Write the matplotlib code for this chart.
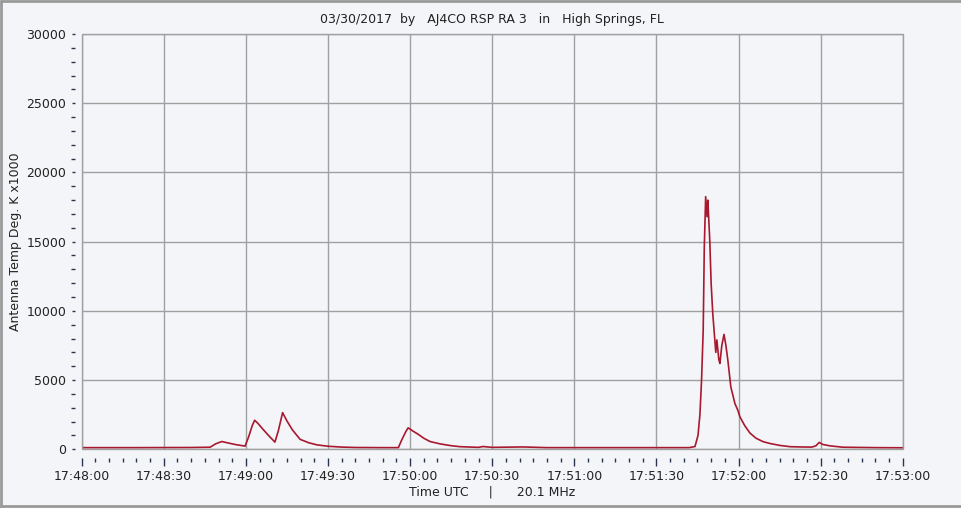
import matplotlib
matplotlib.use("Agg")
import matplotlib.pyplot as plt
from matplotlib.lines import Line2D
from matplotlib.ticker import MultipleLocator

# seconds after 17:48:00 and antenna temperature (Deg. K x1000)
t_sec = [0, 20, 40, 46.9, 49, 51.2, 53, 56, 59.7, 61, 62.3, 63.2, 64.5, 66, 68.5, 70.6,
         71.8, 73.0, 73.4, 74.2, 75, 77, 79.8, 83, 86, 90, 95, 100, 110, 115.7,
         117, 118.5, 119.3, 121, 123, 125, 127.3, 131, 135, 138.2, 145, 146.6, 150,
         161.2, 170, 200, 222, 224.1, 225.2, 225.9, 226.5, 227.1, 227.5, 228, 228.5,
         228.8, 229.5, 230, 230.6, 231.7, 232.1, 232.8, 233.2, 233.9, 234.7, 235.4,
         236.1, 237.2, 238.7, 239.8, 240.5, 242.3, 244.2, 246.4, 249, 251.5, 255.1,
         258.8, 262.4, 266.8, 268.3, 269.5, 270.8, 273.4, 278.1, 290, 300]
temp = [120, 120, 130, 150, 400, 560, 480, 350, 230, 900, 1700, 2100, 1850, 1500, 950, 520,
        1300, 2300, 2650, 2350, 2050, 1400, 720, 470, 320, 220, 160, 130, 120, 120,
        700, 1300, 1550, 1320, 1080, 800, 560, 390, 260, 190, 140, 200, 140,
        170, 120, 120, 120, 200, 1000, 2500, 5000, 8600, 14600, 18250, 16800,
        18000, 15100, 12000, 9800, 7000, 7900, 6500, 6200, 7500, 8300, 7500,
        6450, 4500, 3300, 2800, 2350, 1700, 1170, 800, 550, 420, 280,
        190, 170, 160, 250, 500, 350, 250, 150, 120, 110]

x_ticks = [0, 30, 60, 90, 120, 150, 180, 210, 240, 270, 300]
x_labels = ["17:48:00", "17:48:30", "17:49:00", "17:49:30", "17:50:00", "17:50:30",
            "17:51:00", "17:51:30", "17:52:00", "17:52:30", "17:53:00"]
y_ticks = [0, 5000, 10000, 15000, 20000, 25000, 30000]

bg = "#f4f5f8"
grid_col = "#a0a0a0"
tick_col = "#2a3550"

plt.rcParams["font.family"] = "DejaVu Sans"
plt.rcParams["font.size"] = 9

fig = plt.figure(figsize=(9.62, 5.08), dpi=100, facecolor=bg)
ax = fig.add_axes([81.7 / 962, 1 - 449.3 / 508, (902.7 - 81.7) / 962, (449.3 - 34) / 508])
ax.set_facecolor(bg)

ax.plot(t_sec, temp, color="#a8182f", linewidth=1.2)

ax.set_xlim(0, 300)
ax.set_ylim(0, 30000)
ax.set_xticks(x_ticks)
ax.set_xticklabels(x_labels)
ax.set_yticks(y_ticks)
ax.set_yticklabels([str(v) for v in y_ticks])
ax.xaxis.set_minor_locator(MultipleLocator(5))
ax.yaxis.set_minor_locator(MultipleLocator(1000))

ax.grid(True, which="major", color=grid_col, linewidth=1)
for s in ax.spines.values():
    s.set_color("none")
ax.spines["bottom"].set_position(("outward", 6))
ax.spines["left"].set_position(("outward", 5))

# plot frame
ax.add_patch(plt.Rectangle((0, 0), 1, 1, transform=ax.transAxes, fill=False,
                           edgecolor=grid_col, linewidth=1, clip_on=False, zorder=3))

ax.tick_params(axis="x", which="major", length=6, width=1, color=tick_col,
               labelcolor="#222222", pad=3, labelsize=9)
ax.tick_params(axis="x", which="minor", length=3, width=1, color=tick_col)
ax.tick_params(axis="y", which="major", length=2, width=1, color=tick_col,
               labelcolor="#222222", pad=4, labelsize=9)
ax.tick_params(axis="y", which="minor", length=3, width=1, color=tick_col)

ax.set_xlabel("Time UTC     |      20.1 MHz", fontsize=9, color="#222222", labelpad=2)
ax.set_ylabel("Antenna Temp Deg. K x1000", fontsize=9, color="#222222", labelpad=3)
ax.set_title("03/30/2017  by   AJ4CO RSP RA 3   in   High Springs, FL", fontsize=9,
             color="#222222", pad=8)

# outer border of the picture (left, top, bottom)
for xs, ys in [([0.001, 0.001], [0, 1]), ([0, 0.999], [0.998, 0.998]), ([0, 0.999], [0.004, 0.004])]:
    fig.add_artist(Line2D(xs, ys, transform=fig.transFigure, color="#9a9a9a",
                          linewidth=2, solid_capstyle="butt"))

fig.savefig("out.png", dpi=100, facecolor=bg)
